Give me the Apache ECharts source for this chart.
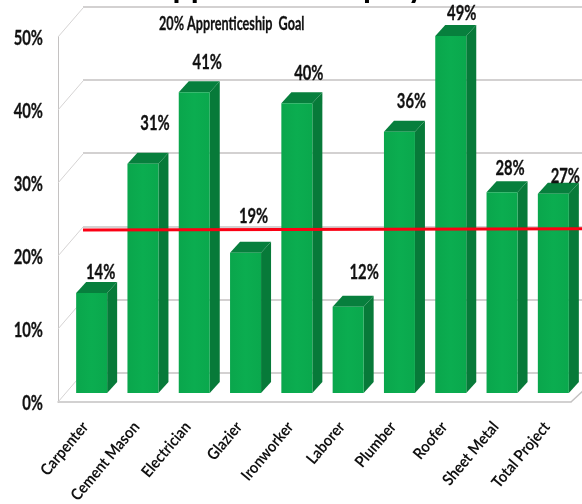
<!DOCTYPE html>
<html><head><meta charset="utf-8">
<style>html,body{margin:0;padding:0;background:#fff}#c{width:582px;height:504px}</style>
<script src="https://cdn.jsdelivr.net/npm/echarts@6/dist/echarts.min.js"></script>
</head><body><div id="c"></div>
<script>
const categories = ['Carpenter','Cement Mason','Electrician','Glazier','Ironworker','Laborer','Plumber','Roofer','Sheet Metal','Total Project'];
const shares = [13.7,31.4,41.2,19.2,39.7,11.8,35.8,48.9,27.5,27.3];
const goalLine = [[0,19.5],[1,19.65]];
const ticks = [0,10,20,30,40,50];
const titleText = 'Apprentice Employment';
const goalText = '20% Apprenticeship  Goal';

// layout of the drawn 3D effect (pixels), not data
const labelLift = [9,29,19,25,19,23,19,11,13,6];
const labelShift = [-2,1,2,-3,1,5,1,0,-3,1];
const FONT = 'Lato,"Liberation Sans",sans-serif';

const chart = echarts.init(document.getElementById('c'), null, {renderer:'canvas'});
const TOP='#077f3d', SIDE='#077a39', GRID='#c4c2c2', INK='#111';

function barItem(params, api){
  const i = api.value(0), v = api.value(1);
  const base = api.coord([i,0]), top = api.coord([i,v]);
  const cx = base[0]+8, w = 31, dx = 10, dy = 11, up = 9;
  const x0 = cx-w/2, x1 = cx+w/2, yb = base[1]-up, yt = top[1]-up;
  return {type:'group',children:[
    {type:'polygon',shape:{points:[[x1,yb],[x1+dx,yb-dy],[x1+dx,yt-dy],[x1,yt]]},style:{fill:SIDE}},
    {type:'polygon',shape:{points:[[x0,yt],[x1,yt],[x1+dx,yt-dy],[x0+dx,yt-dy]]},style:{fill:TOP}},
    {type:'rect',shape:{x:x0,y:yt,width:w,height:yb-yt},style:{fill:{type:'linear',x:0,y:0,x2:1,y2:0,colorStops:[{offset:0,color:'#0aa64c'},{offset:.5,color:'#0bad50'},{offset:1,color:'#0aa84d'}]}}},
    {type:'text',x:cx+11+labelShift[i],y:yt-dy-labelLift[i],scaleX:.74,style:{text:Math.round(v)+'%',align:'center',verticalAlign:'middle',
      font:'bold 20px '+FONT,fill:INK,stroke:INK,lineWidth:.3}}
  ]};
}
function wallItem(params, api){
  const v = api.value(0);
  const p = api.coord([0,v]);
  const lx = params.coordSys.x;
  return {type:'group',children:[
    {type:'line',shape:{x1:lx,y1:p[1],x2:lx+25,y2:p[1]-29},style:{stroke:'#d6d4d4',lineWidth:1}},
    {type:'text',x:lx-15,y:p[1]+2,scaleX:.74,style:{text:v+'%',align:'right',verticalAlign:'middle',font:'bold 20px '+FONT,fill:INK,stroke:INK,lineWidth:.3}}
  ]};
}
function catItem(params, api){
  const i = api.value(0);
  const p = api.coord([i,0]);
  return {type:'text',x:p[0]+1.5,y:p[1]+22,rotation:50*Math.PI/180,scaleX:.9,
    style:{text:categories[i],align:'right',verticalAlign:'middle',font:'bold 16px '+FONT,fill:INK}};
}
function floorItem(params, api){
  const p = api.coord([categories.length-1,0]);
  const r = params.coordSys.x+params.coordSys.width;
  return {type:'line',shape:{x1:r,y1:p[1],x2:r+14,y2:p[1]-13},style:{stroke:GRID,lineWidth:1.5}};
}

chart.setOption({
  animation:false,
  backgroundColor:'#fff',
  graphic:[
    {type:'text',x:150,y:-33,scaleX:.9,style:{text:titleText,font:'bold 36px '+FONT,fill:'#000',verticalAlign:'top'}},
    {type:'text',x:159,y:14,scaleX:.665,style:{text:goalText,font:'bold 19px '+FONT,fill:INK,stroke:INK,lineWidth:.3,verticalAlign:'top'}}
  ],
  grid:[
    {left:58,top:37,width:513,height:365},
    {left:83,top:7,width:499,height:365.5}
  ],
  xAxis:[
    {gridIndex:0,type:'category',data:categories,
      axisTick:{show:false},axisLabel:{show:false},
      axisLine:{show:true,lineStyle:{color:GRID,width:1.5}}},
    {gridIndex:1,type:'value',min:0,max:1,show:false}
  ],
  yAxis:[
    {gridIndex:0,type:'value',min:0,max:50,interval:10,
      axisLine:{show:true,lineStyle:{color:GRID,width:1}},axisTick:{show:false},splitLine:{show:false},
      axisLabel:{show:false}},
    {gridIndex:1,type:'value',min:0,max:50,interval:10,
      axisLine:{show:false},axisTick:{show:false},axisLabel:{show:false},
      splitLine:{show:true,lineStyle:{color:GRID,width:1.5}}}
  ],
  series:[
    {type:'custom',xAxisIndex:0,yAxisIndex:0,data:ticks.map(t=>[t]),encode:{y:0},renderItem:wallItem,silent:true,clip:false,z:1},
    {type:'custom',xAxisIndex:0,yAxisIndex:0,data:[[0]],renderItem:floorItem,silent:true,clip:false,z:1},
    {type:'custom',xAxisIndex:0,yAxisIndex:0,data:categories.map((c,i)=>[i]),encode:{x:0},renderItem:catItem,silent:true,clip:false,z:2},
    {type:'custom',name:'Apprentice share',xAxisIndex:0,yAxisIndex:0,data:shares.map((v,i)=>[i,v]),encode:{x:0,y:1},renderItem:barItem,clip:false,z:3},
    {type:'line',name:'Goal',xAxisIndex:1,yAxisIndex:1,data:goalLine,showSymbol:false,lineStyle:{color:'#fb0014',width:3},z:4}
  ]
});
</script></body></html>
